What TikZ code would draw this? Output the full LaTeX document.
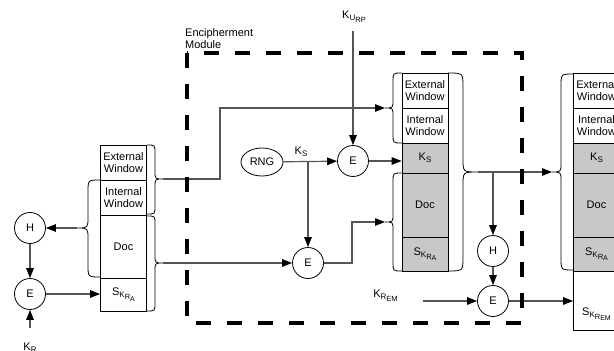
\documentclass[tikz,border=0pt]{standalone}
\usepackage{fontspec}
\setmainfont{Liberation Sans}
\usetikzlibrary{arrows.meta,shapes.geometric}
\definecolor{connc}{RGB}{85,85,85}
\definecolor{cellgray}{RGB}{200,200,200}
\newcommand\subA[1]{\raisebox{-2.2pt}{\fontsize{8}{8}\selectfont #1}}
\newcommand\subB[1]{\raisebox{-1.8pt}{\fontsize{7.5}{7.5}\selectfont #1}}
\newcommand\subC[1]{\raisebox{-1.6pt}{\fontsize{7}{7}\selectfont #1}}
% edge x, body x, tip x, top y, mid y, bottom y, corner r, tip r
\newcommand\bracepath[8]{%
  \draw[bracestyle] (#1,#4) .. controls (#2,#4) .. (#2,#4+#7) -- (#2,#5-#8)
    .. controls (#2,#5) .. (#3,#5) .. controls (#2,#5) .. (#2,#5+#8)
    -- (#2,#6-#7) .. controls (#2,#6) .. (#1,#6);}
\begin{document}
\begin{tikzpicture}[x=1pt,y=-1pt,
  every node/.style={font=\fontsize{11}{12.3}\selectfont},
  cell/.style={draw=black, line width=0.8pt, minimum width=46pt, inner sep=0pt, align=center, text width=44pt},
  graycell/.style={cell, fill=cellgray},
  op/.style={draw=black, line width=0.8pt, circle, minimum size=31pt, inner sep=0pt},
  conn/.style={draw=connc, line width=1.2pt},
  arr/.style={conn, -{Triangle[length=10pt,width=7.5pt,color=black,fill=black]}},
  bracestyle/.style={draw=black, line width=0.8pt},
  module/.style={draw=black, line width=3.6pt, dash pattern=on 15pt off 16pt}]
\useasboundingbox (0,0) rectangle (614,351);
\clip (0,0) rectangle (614,351);

% left stack
\node[cell, minimum height=35pt] (Lext) at (123.5,162.5) {External\\Window};
\node[cell, minimum height=35pt] (Lint) at (123.5,197.5) {Internal\\Window};
\node[cell, minimum height=63pt] (Ldoc) at (123.5,246.5) {Doc};
\node[cell, minimum height=33pt] (Lsig) at (123.5,294.5) {S\subA{K\subB{R\subC{A}}}};

% middle stack
\node[cell, minimum height=35pt] (Mext) at (425,90.5) {External\\Window};
\node[cell, minimum height=35pt] (Mint) at (425,125.5) {Internal\\Window};
\node[graycell, minimum height=30pt] (Mks) at (425,158) {K\subA{S}};
\node[graycell, minimum height=64pt] (Mdoc) at (425,205) {Doc};
\node[graycell, minimum height=34pt] (Msig) at (425,254) {S\subA{K\subB{R\subC{A}}}};

% right stack
\node[cell, minimum height=35pt] (Rext) at (596.5,90.5) {External\\Window};
\node[cell, minimum height=35pt] (Rint) at (596.5,125.5) {Internal\\Window};
\node[graycell, minimum height=30pt] (Rks) at (596.5,158) {K\subA{S}};
\node[graycell, minimum height=64pt] (Rdoc) at (596.5,205) {Doc};
\node[graycell, minimum height=34pt] (Rsig) at (596.5,254) {S\subA{K\subB{R\subC{A}}}};
\node[cell, minimum height=59pt] (Rrem) at (596.5,300.5) {};
\node (Rremt) at (596.5,314) {S\subA{K\subB{R\subC{EM}}}};

% operators
\node[op] (H1) at (30,228) {H};
\node[op] (E1) at (30,294) {E};
\node[draw=black, line width=0.8pt, ellipse, minimum width=42pt, minimum height=28pt, inner sep=0pt] (RNG) at (262,162) {RNG};
\node[op] (Etop) at (353,161) {E};
\node[op] (E2) at (308,263) {E};
\node[op] (H3) at (493,251) {H};
\node[op] (E3) at (493,301) {E};

% labels
\node[anchor=base, inner sep=0pt] (KR) at (30,350.5) {K\subA{R}};
\node[anchor=base, inner sep=0pt] (KURP) at (354,18.5) {K\subA{U\subB{RP}}};
\node[anchor=base, inner sep=0pt] (KS) at (301,154) {K\subA{S}};
\node[anchor=base, inner sep=0pt] (KREM) at (385.5,297) {K\subA{R\subB{EM}}};
\node[anchor=north west, align=left, inner sep=0pt] (EM) at (185,28) {Encipherment\\Module};

% braces
\bracepath{100}{88}{77}{180}{228}{277}{12}{11}
\bracepath{147}{155}{163}{145}{179}{214}{8}{8}
\bracepath{147}{155}{163}{216}{263}{311}{8}{8}
\bracepath{402}{393}{385}{73}{108}{143}{9}{8}
\bracepath{402}{393}{385}{173}{222}{271}{9}{8}
\bracepath{448}{463}{478}{73}{172}{271}{14}{13}
\bracepath{573.5}{561}{552}{74}{172}{270}{12}{9}
\coordinate (t1) at (77,228);
\coordinate (t2) at (163,179);
\coordinate (t3) at (163,263);
\coordinate (t4) at (385,108);
\coordinate (t5) at (385,222);
\coordinate (t6) at (478,172);
\coordinate (t7) at (552,172);
\coordinate (krs) at (30,328);
\coordinate (kurps) at (353,31);
\coordinate (krems) at (423,301);

% connectors
\draw[arr] (t1) -- (H1);
\draw[arr] (H1) -- (E1);
\draw[arr] (krs) -- (E1);
\draw[arr] (E1) -- (E1 -| Lsig.west);
\draw[arr] (t2) -- ++(57,0) |- (t4);
\draw[arr] (t3) -- (E2);
\draw[arr] (RNG) -- (Etop);
\draw[arr] (RNG.east -| E2) -- (E2);
\draw[arr] (kurps) -- (Etop);
\draw[arr] (Etop) -- (Etop -| Mks.west);
\draw[arr] (E2) -- ++(44,0) |- (t5);
\draw[arr] (t6) -- (t7);
\draw[arr] (t6 -| H3) -- (H3);
\draw[arr] (H3) -- (E3);
\draw[arr] (krems) -- (E3);
\draw[arr] (E3) -- (E3 -| Rrem.west);

% module boundary
\draw[module] (187,53) rectangle (522,323);
\end{tikzpicture}
\end{document}
